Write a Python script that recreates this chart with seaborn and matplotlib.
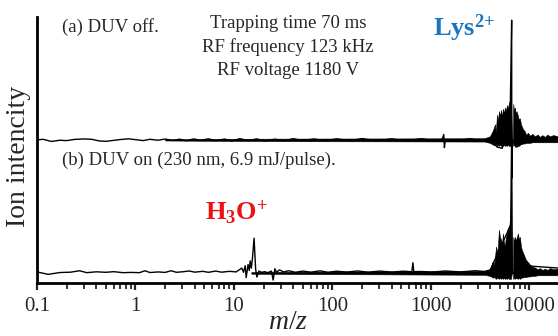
import matplotlib
matplotlib.use("Agg")
import matplotlib.pyplot as plt
from matplotlib.ticker import FuncFormatter, NullFormatter, LogLocator
import seaborn as sns
import pandas as pd
import numpy as np

# ---- data (m/z, intensity in a.u., peak of trace (a) = 100) ----
mz_a = [0.1, 0.115, 0.14, 0.17, 0.2, 0.24, 0.3, 0.36, 0.43, 0.5,
        0.6, 0.7, 0.85, 1.0, 1.2, 1.4, 1.7, 2.0, 2.4, 2.8,
        3.3, 3.9, 4.6, 5.5, 6.5, 8, 9.5, 11.5, 14, 17,
        21, 26, 32, 40, 50, 65, 85, 110, 150, 200,
        280, 400, 550, 800, 1100, 1300, 1350, 1370, 1400, 1800,
        2500, 3300, 3900, 4700, 5300, 6400, 6600, 6620, 6700, 7300,
        7900, 9000, 20000]
int_a = [0, 0.5, -1.3, -0.3, -0.6, 0.4, 0.8, 0.5, -0.9, -1.2,
         -0.4, 0.3, 0.9, 0.2, -0.6, 0.5, -0.3, 0.7, -0.5, 0.6,
         -0.7, 0.8, -0.4, 0.9, -0.6, 0.7, -0.8, 1.0, -0.5, 0.8,
         -0.9, 0.6, -0.7, 1.0, -0.6, 0.8, -0.8, 0.9, -0.7, 1.1,
         -0.8, 0.9, -0.9, 1.0, -0.8, 0.5, 4.5, -6.5, 0.3, -0.9,
         1.0, -0.8, 1.2, -6, -7, 30, 100, -32, 0, -6,
         -5, 1, 1.5]

# dense noise envelope of trace (a)
band_mz_a = [2, 10, 50, 300, 3500, 3972, 4260, 4463, 4560, 4677,
             4780, 4900, 5018, 5150, 5257, 5380, 5508, 5638, 5771, 5908,
             6047, 6200, 6337, 6486, 6650, 6800, 6850, 6950, 7123, 7250,
             7400, 7643, 7800, 8010, 8199, 8400, 8600, 8998, 9300, 9651,
             10113, 10700, 11370, 12100, 12780, 13500, 14360, 15200, 16140, 17500,
             19460]
band_hi_a = [0.5, 0.9, 1.1, 1.2, 1.4, 3, 8, 13, 6, 21,
             15, 24, 20, 25, 19, 26, 22, 27, 24, 29,
             26, 31, 33, 36, 0, 0, 30, 25, 27, 22,
             24, 20, 17, 18, 13, 11, 9, 7, 4, 6,
             3.5, 5, 3, 4.5, 2.5, 4, 2.5, 4.5, 3, 4,
             3]
band_lo_a = [-0.5, -0.9, -1.1, -1.2, -1.4, -2.5, -4, -4.5, -3.5, -5,
             -4, -5, -4, -5, -4.5, -5, -4, -5, -4.5, -5,
             -4, -5, -5, -5, 0, 0, -5, -4, -5, -4,
             -5, -4, -4, -4, -3.5, -3.5, -3, -3, -2.5, -2.5,
             -2.5, -2, -2, -2, -2, -2, -2, -2, -2, -2,
             -2]

mz_b = [0.1, 0.13, 0.17, 0.22, 0.27, 0.32, 0.4, 0.5, 0.6, 0.75,
        0.9, 1.1, 1.25, 1.4, 1.7, 2.0, 2.3, 2.6, 3.0, 3.5,
        4.0, 4.8, 5.5, 6.5, 7.5, 9, 10.5, 12.0, 12.5, 13.0,
        13.3, 13.9, 14.3, 14.6, 15.0, 15.4, 16.0, 16.6, 17.1, 17.9,
        19, 20.5, 22, 24, 25, 26, 27, 29, 32, 36,
        42, 50, 60, 75, 90, 110, 140, 180, 230, 300,
        400, 520, 640, 656, 670, 800, 1000, 1400, 2000, 2800,
        3500, 4000, 6450, 6600, 6700, 9000, 20000]
int_b = [0.8, -1.2, 0.3, 0.6, 1.8, 0.2, 0.9, 0.5, 1.0, 0.2,
         0.4, 0.2, 1.8, 0.3, 0.8, 0.4, 1.8, 0.5, 0.9, 1.6,
         0.6, 1.3, 0.5, 1.5, 0.6, 1.3, 0.8, 4.0, 0.5, 6.0,
         -4.0, 7.0, 2.0, 10.0, 4.0, 12.0, 29.0, 3.0, -3.5, 1.5,
         0.5, 1.0, 0.2, 1.5, -6.0, 3.5, 0.5, 2.5, 0.8, 1.8,
         0.5, 1.5, 0.6, 1.7, 0.5, 1.4, 0.7, 1.6, 0.6, 1.5,
         0.7, 1.4, 1.0, 8.5, 1.0, 1.2, 0.6, 1.6, 0.8, 1.8,
         1.2, 2.5, 40, 115, 0, 6, 4]

band_mz_b = [15, 50, 300, 3500, 3972, 4260, 4400, 4580, 4740, 4900,
             5018, 5150, 5257, 5380, 5508, 5638, 5771, 5908, 6047, 6200,
             6337, 6486, 6650, 6800, 6850, 6980, 7123, 7300, 7643, 7820,
             8010, 8199, 8400, 8790, 9200, 9651, 10113, 10700, 11370, 12100,
             12780, 13500, 14360, 15200, 16140, 17500, 19460]
band_hi_b = [0.7, 1.0, 1.2, 1.6, 3, 10, 7, 22, 17, 36,
             30, 28, 22, 33, 25, 23, 30, 34, 38, 36,
             45, 55, 0, 0, 30, 26, 30, 27, 33, 28,
             30, 22, 19, 15, 11, 9, 7, 5, 4.5, 3,
             4, 2.5, 3.5, 2.5, 4, 3, 3.5]
band_lo_b = [-0.7, -1.0, -1.2, -1.6, -2.5, -4, -3.5, -5, -4, -5,
             -4, -5, -4, -5, -4, -5, -4.5, -5, -4, -5,
             -5, -5, 0, 0, -5, -4, -5, -4, -5, -4,
             -5, -4, -4, -3.5, -3.5, -3, -3, -2.5, -2.5, -2,
             -2, -2, -2, -2, -2, -2, -2]

tick_values = [0.1, 1, 10, 100, 1000, 10000]
condition_lines = ["Trapping time 70 ms", "RF frequency 123 kHz", "RF voltage 1180 V"]

# ---- layout ----
OFFSET_A = 0.538
OFFSET_B = 0.038
SCALE = 0.0045  # axis fraction per a.u.

sns.set_theme(style="white")
plt.rcParams["font.family"] = ["Liberation Serif", "DejaVu Serif"]
plt.rcParams["mathtext.fontset"] = "custom"
plt.rcParams["mathtext.rm"] = "Liberation Serif"
plt.rcParams["mathtext.it"] = "Liberation Serif:italic"
plt.rcParams["mathtext.bf"] = "Liberation Serif:bold"

fig = plt.figure(figsize=(5.58, 3.36), dpi=100)
ax = fig.add_axes([37 / 558, 53 / 336, 521 / 558, 266 / 336])

traces = [(mz_b, int_b, band_mz_b, band_lo_b, band_hi_b, OFFSET_B),
          (mz_a, int_a, band_mz_a, band_lo_a, band_hi_a, OFFSET_A)]
for mz, inten, bmz, blo, bhi, off in traces:
    df = pd.DataFrame({"mz": mz, "y": off + SCALE * np.asarray(inten)})
    sns.lineplot(data=df, x="mz", y="y", ax=ax, color="black", lw=1.0,
                 sort=False, estimator=None)
    ax.fill_between(bmz, off + SCALE * np.asarray(blo), off + SCALE * np.asarray(bhi),
                    color="black", lw=0.4)

ax.set_xscale("log")
ax.set_xlim(0.1, 19500)
ax.set_ylim(0, 1)
ax.set_yticks([])
ax.set_xticks(tick_values)
ax.xaxis.set_major_formatter(FuncFormatter(lambda v, p: "{:g}".format(v)))
ax.xaxis.set_minor_locator(LogLocator(base=10, subs=range(2, 10), numticks=20))
ax.xaxis.set_minor_formatter(NullFormatter())
ax.tick_params(axis="x", which="major", direction="out", length=5, width=1.6,
               labelsize=15, pad=5, bottom=True)
ax.tick_params(axis="x", which="minor", direction="out", length=4, width=1.3, bottom=True)

for side in ["top", "right"]:
    ax.spines[side].set_visible(False)
for side in ["left", "bottom"]:
    ax.spines[side].set_linewidth(2)
    ax.spines[side].set_color("black")

ax.set_xlabel("$m/z$", fontsize=20)
ax.xaxis.set_label_coords(0.482, -0.1)
ax.set_ylabel("Ion intencity", fontsize=20)
ax.yaxis.set_label_coords(-0.012, 0.474)

ax.text(0.18, 0.962, "(a) DUV off.", fontsize=13.5, va="center", ha="left")
ax.text(0.18, 0.462, "(b) DUV on (230 nm, 6.9 mJ/pulse).", fontsize=13.5, va="center", ha="left")
for i, line in enumerate(condition_lines):
    ax.text(35.3, 0.977 - 0.09 * i, line, fontsize=13.5, va="center", ha="center")

ax.text(1047, 0.929, r"Lys$^{\mathbf{2{+}}}$", fontsize=19, fontweight="bold",
        color="#1b75bc", va="baseline", ha="left")
ax.text(5.08, 0.237, r"H$_{\mathbf{3}}$O$^{\mathbf{+}}$", fontsize=19, fontweight="bold",
        color="#ee1111", va="baseline", ha="left")

fig.savefig("out.png", dpi=100)
